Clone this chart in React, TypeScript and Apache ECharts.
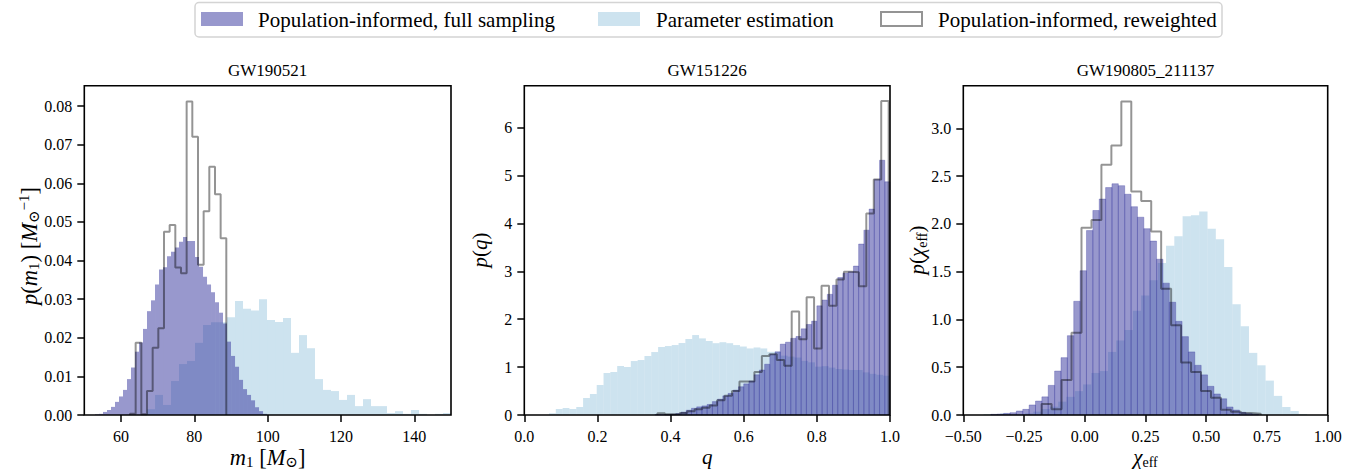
import React, { useEffect, useRef } from "react";
import * as echarts from "echarts";

// ---------------- Panel 1: GW190521, m1 ----------------
const M1_X_TICKS = [60, 80, 100, 120, 140];
const M1_Y_TICKS = [0, 0.01, 0.02, 0.03, 0.04, 0.05, 0.06, 0.07, 0.08];
const M1_FULL_START = 52.92;
const M1_FULL_WIDTH = 1.091;
const m1Full = [
  0.0002, 0.0003, 0.0008, 0.0013, 0.0021, 0.0034, 0.0048, 0.0065, 0.0093, 0.0123,
  0.0164, 0.0188, 0.0223, 0.0269, 0.0297, 0.0338, 0.0377, 0.0383, 0.0411, 0.0423,
  0.0434, 0.0449, 0.0461, 0.0451, 0.0451, 0.0409, 0.0384, 0.0358, 0.0338, 0.0318,
  0.0292, 0.0265, 0.0237, 0.019, 0.0153, 0.0125, 0.0091, 0.0067, 0.0052, 0.0038,
  0.002, 0.001, 0.0003,
];
const M1_PE_START = 67.1;
const M1_PE_WIDTH = 2.1817;
const m1PE = [
  0.0015, 0.0052, 0.0026, 0.0088, 0.0132, 0.014, 0.0187, 0.0233, 0.024, 0.024,
  0.0253, 0.0295, 0.0275, 0.0271, 0.03, 0.0246, 0.0241, 0.0251, 0.0161, 0.0207,
  0.0173, 0.0093, 0.0065, 0.0062, 0.0039, 0.0052, 0.0023, 0.0041, 0.0023, 0.0023,
  0.0005, 0.001, 0.0003, 0.0013, 0.0003, 0, 0.0003, 0.0005,
];
const M1_RW_START = 62.46;
const M1_RW_WIDTH = 1.545;
const m1RW = [
  0.0003, 0.0187, 0.0002, 0.0062, 0.0174, 0.0225, 0.0475, 0.0492, 0.0382, 0.0367,
  0.0812, 0.0721, 0.0389, 0.0528, 0.0643, 0.0572, 0.0458,
];

// ---------------- Panel 2: GW151226, q ----------------
const Q_X_TICKS = [0, 0.2, 0.4, 0.6, 0.8, 1.0];
const Q_Y_TICKS = [0, 1, 2, 3, 4, 5, 6];
const Q_FULL_START = 25 / 70;
const Q_FULL_WIDTH = 1 / 70;
const qFull = [
  0.01, 0.01, 0.01, 0.015, 0.03, 0.06, 0.1, 0.14, 0.17, 0.19,
  0.22, 0.28, 0.33, 0.4, 0.45, 0.52, 0.59, 0.65, 0.71, 0.84,
  0.94, 1.06, 1.27, 1.32, 1.48, 1.52, 1.6, 1.64, 1.8, 1.89,
  1.96, 2.28, 2.4, 2.52, 2.71, 2.87, 2.96, 2.99, 3.11, 3.57,
  3.86, 4.3, 4.92, 5.32, 4.87,
];
const Q_PE_START = 0.0675;
const Q_PE_WIDTH = 0.01865;
const qPE = [
  0.035, 0.125, 0.146, 0.125, 0.167, 0.355, 0.438, 0.626, 0.877, 0.898,
  1.023, 1.002, 1.127, 1.148, 1.232, 1.315, 1.42, 1.44, 1.461, 1.503,
  1.587, 1.67, 1.6, 1.545, 1.5, 1.52, 1.5, 1.46, 1.43, 1.39,
  1.41, 1.39, 1.32, 1.32, 1.24, 1.22, 1.2, 1.13, 1.1, 1.01,
  1.02, 0.99, 0.96, 0.95, 0.94, 0.94, 0.89, 0.86, 0.84, 0.82,
];
const Q_RW_START = 0.364;
const Q_RW_WIDTH = 0.0204;
const qRW = [
  0.035, 0.015, 0.02, 0.04, 0.08, 0.12, 0.15, 0.2, 0.31, 0.4,
  0.5, 0.7, 0.7, 0.9, 1.23, 1.27, 1.15, 1.03, 2.16, 1.58,
  2.46, 1.39, 2.7, 2.28, 2.83, 2.99, 2.98, 2.69, 4.21, 4.92,
  6.56,
];

// ---------------- Panel 3: GW190805_211137, chi_eff ----------------
const CHI_X_TICKS = [-0.5, -0.25, 0, 0.25, 0.5, 0.75, 1.0];
const CHI_Y_TICKS = [0, 0.5, 1, 1.5, 2, 2.5, 3];
const CHI_FULL_START = -0.3864;
const CHI_FULL_WIDTH = 0.02623;
const chiFull = [
  0.007, 0.01, 0.017, 0.024, 0.042, 0.059, 0.105, 0.146, 0.19, 0.31,
  0.46, 0.6, 0.83, 1.19, 1.51, 1.93, 2.14, 2.26, 2.38, 2.42,
  2.4, 2.31, 2.18, 2.07, 1.95, 1.82, 1.63, 1.38, 1.18, 0.98,
  0.82, 0.66, 0.52, 0.42, 0.3, 0.22, 0.17, 0.084, 0.052, 0.028,
  0.014, 0.007,
];
const CHI_PE_START = -0.4168;
const CHI_PE_WIDTH = 0.03415;
const chiPE = [
  0.01, 0.003, 0.017, 0.007, 0.007, 0.017, 0.035, 0.063, 0.087, 0.14,
  0.19, 0.25, 0.32, 0.44, 0.46, 0.66, 0.78, 0.89, 1.09, 1.25,
  1.41, 1.59, 1.77, 1.87, 2.08, 2.09, 2.13, 1.95, 1.84, 1.55,
  1.16, 0.93, 0.65, 0.52, 0.36, 0.2, 0.084, 0.042, 0.01,
];
const CHI_RW_START = -0.1775;
const CHI_RW_WIDTH = 0.041;
const chiRW = [
  0.115, 0.059, 0.366, 0.86, 1.96, 2.04, 2.62, 2.82, 3.28, 2.34,
  2.24, 1.92, 1.32, 0.94, 0.55, 0.45, 0.25, 0.18, 0.056, 0.035,
  0.021, 0.014,
];

const TITLES = ["GW190521", "GW151226", "GW190805_211137"];
const LEGEND_LABELS = [
  "Population-informed, full sampling",
  "Parameter estimation",
  "Population-informed, reweighted",
];

// ---------------- styling ----------------
const PURPLE = "rgba(50,50,155,0.5)";
const LIGHTBLUE = "rgba(155,200,224,0.5)";
const STEP = "rgba(0,0,0,0.42)";
const SERIF = "'Liberation Serif', 'DejaVu Serif', serif";

const GRIDS = [
  { left: 84.3, top: 85.7, width: 366.7, height: 329.3 },
  { left: 524.3, top: 85.7, width: 365.7, height: 329.3 },
  { left: 963.3, top: 85.7, width: 364.4, height: 329.3 },
];

function binRects(start: number, width: number, heights: number[]) {
  return heights.map((h, i) => [start + i * width, start + (i + 1) * width, h]);
}

function stepOutline(start: number, width: number, heights: number[]) {
  const pts: number[][] = [[start, 0]];
  heights.forEach((h, i) => {
    pts.push([start + i * width, h]);
    pts.push([start + (i + 1) * width, h]);
  });
  pts.push([start + heights.length * width, 0]);
  return pts;
}

function barSeries(idx: number, data: number[][], color: string, edge: number) {
  return {
    type: "custom",
    xAxisIndex: idx,
    yAxisIndex: idx,
    encode: { x: [0, 1], y: 2 },
    data,
    renderItem: (params: any, api: any) => {
      const x0 = api.value(0);
      const x1 = api.value(1);
      const h = api.value(2);
      const p0 = api.coord([x0, h]);
      const p1 = api.coord([x1, 0]);
      return {
        type: "rect",
        shape: { x: p0[0], y: p0[1], width: p1[0] - p0[0], height: p1[1] - p0[1] },
        style: edge > 0 ? { fill: color, stroke: color, lineWidth: edge } : { fill: color },
      };
    },
    silent: true,
  };
}

function stepSeries(idx: number, data: number[][]) {
  return {
    type: "line",
    xAxisIndex: idx,
    yAxisIndex: idx,
    data,
    showSymbol: false,
    symbol: "none",
    lineStyle: { color: STEP, width: 2 },
    silent: true,
    z: 5,
  };
}

const tickLabelStyle = { fontFamily: SERIF, fontSize: 16, color: "#000" };

function axisOf(idx: number, min: number, max: number, ticks: number[], fmt: (v: number) => string, margin: number) {
  return {
    type: "value",
    gridIndex: idx,
    min,
    max,
    splitLine: { show: false },
    axisLine: { show: false, onZero: false },
    axisTick: {
      show: true,
      length: 7,
      customValues: ticks,
      lineStyle: { color: "#000", width: 1.5 },
    },
    axisLabel: {
      ...tickLabelStyle,
      margin,
      customValues: ticks,
      formatter: (v: number) => fmt(v),
    },
  };
}

function makeRich(size: number, sub: number) {
  return {
    i: { fontFamily: SERIF, fontStyle: "italic", fontSize: size, lineHeight: size + 3, verticalAlign: "middle", color: "#000" },
    r: { fontFamily: SERIF, fontSize: size, lineHeight: size + 3, verticalAlign: "middle", color: "#000" },
    s: { fontFamily: SERIF, fontSize: sub, lineHeight: sub, verticalAlign: "bottom", color: "#000" },
    p: { fontFamily: SERIF, fontSize: sub, lineHeight: sub, verticalAlign: "top", color: "#000" },
  };
}
const RICH_STD = makeRich(21, 14);
const RICH_MASS = makeRich(22.5, 15);

function mathText(x: number, y: number, text: string, rotate: boolean, rich: any) {
  return {
    type: "text",
    x,
    y,
    rotation: rotate ? Math.PI / 2 : 0,
    z: 50,
    style: {
      text,
      rich,
      align: "center",
      verticalAlign: "middle",
      textAlign: "center",
      textVerticalAlign: "middle",
    },
  };
}

function plainText(x: number, y: number, text: string, size: number, align: string) {
  return {
    type: "text",
    x,
    y,
    z: 70,
    style: {
      text,
      fontFamily: SERIF,
      fontSize: size,
      fill: "#000",
      align,
      verticalAlign: "middle",
      textAlign: align,
      textVerticalAlign: "middle",
    },
  };
}

export default function App() {
  const ref = useRef<HTMLDivElement>(null);

  useEffect(() => {
    if (!ref.current) return;
    const chart = echarts.init(ref.current, undefined, { renderer: "svg" });

    const frames = GRIDS.map((g) => ({
      type: "rect",
      z: 100,
      shape: { x: g.left, y: g.top, width: g.width, height: g.height },
      style: { fill: "none", stroke: "#000", lineWidth: 1.6 },
      silent: true,
    }));

    const titles = GRIDS.map((g, i) => plainText(g.left + g.width / 2, 70, TITLES[i], 17, "center"));

    const legend = [
      {
        type: "rect",
        z: 60,
        shape: { x: 195, y: 2.5, width: 1027, height: 34.5, r: 4 },
        style: { fill: "#fff", stroke: "#d4d4d4", lineWidth: 1.5 },
      },
      { type: "rect", z: 61, shape: { x: 201, y: 12, width: 42, height: 14 }, style: { fill: PURPLE } },
      { type: "rect", z: 61, shape: { x: 598, y: 12, width: 42, height: 14 }, style: { fill: LIGHTBLUE } },
      {
        type: "rect",
        z: 61,
        shape: { x: 881, y: 12, width: 41, height: 14 },
        style: { fill: "none", stroke: STEP, lineWidth: 2 },
      },
      plainText(258, 19.5, LEGEND_LABELS[0], 21, "left"),
      plainText(656, 19.5, LEGEND_LABELS[1], 21, "left"),
      plainText(938, 19.5, LEGEND_LABELS[2], 21, "left"),
    ];

    const axisNames = [
      mathText(29, 246, "{i|p}{r|(}{i|m}{s|1}{r|) [}{i|M}{s|⊙}{p|−1}{r|]}", true, RICH_MASS),
      mathText(480, 250, "{i|p}{r|(}{i|q}{r|)}", true, RICH_STD),
      mathText(917, 250, "{i|p}{r|(}{i|χ}{s|eff}{r|)}", true, RICH_STD),
      mathText(267.6, 457, "{i|m}{s|1}{r| [}{i|M}{s|⊙}{r|]}", false, RICH_MASS),
      mathText(707.2, 457, "{i|q}", false, RICH_STD),
      mathText(1145.5, 457, "{i|χ}{s|eff}", false, RICH_STD),
    ];

    chart.setOption({
      animation: false,
      backgroundColor: "#fff",
      grid: GRIDS.map((g) => ({ ...g, containLabel: false })),
      xAxis: [
        axisOf(0, 50, 150, M1_X_TICKS, (v) => String(v), 13),
        axisOf(1, 0, 1, Q_X_TICKS, (v) => v.toFixed(1), 13),
        axisOf(2, -0.5, 1, CHI_X_TICKS, (v) => (v < 0 ? "−" : "") + Math.abs(v).toFixed(2), 13),
      ],
      yAxis: [
        axisOf(0, 0, 0.0853, M1_Y_TICKS, (v) => v.toFixed(2), 12),
        axisOf(1, 0, 6.877, Q_Y_TICKS, (v) => String(Math.round(v)), 12),
        axisOf(2, 0, 3.446, CHI_Y_TICKS, (v) => v.toFixed(1), 12),
      ],
      series: [
        barSeries(0, binRects(M1_PE_START, M1_PE_WIDTH, m1PE), LIGHTBLUE, 0),
        barSeries(0, binRects(M1_FULL_START, M1_FULL_WIDTH, m1Full), PURPLE, 0),
        stepSeries(0, stepOutline(M1_RW_START, M1_RW_WIDTH, m1RW)),
        barSeries(1, binRects(Q_PE_START, Q_PE_WIDTH, qPE), LIGHTBLUE, 0),
        barSeries(1, binRects(Q_FULL_START, Q_FULL_WIDTH, qFull), PURPLE, 0.6),
        stepSeries(1, stepOutline(Q_RW_START, Q_RW_WIDTH, qRW)),
        barSeries(2, binRects(CHI_PE_START, CHI_PE_WIDTH, chiPE), LIGHTBLUE, 0),
        barSeries(2, binRects(CHI_FULL_START, CHI_FULL_WIDTH, chiFull), PURPLE, 0.6),
        stepSeries(2, stepOutline(CHI_RW_START, CHI_RW_WIDTH, chiRW)),
      ],
      graphic: { elements: [...frames, ...titles, ...legend, ...axisNames] },
    });

    return () => chart.dispose();
  }, []);

  return (
    <div
      ref={ref}
      style={{ position: "fixed", left: 0, top: 0, width: 1358, height: 472, background: "#fff" }}
    />
  );
}
